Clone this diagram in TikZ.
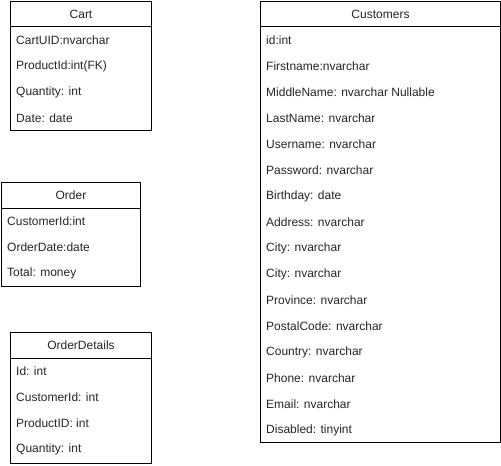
\documentclass[tikz,border=0pt]{standalone}
\usepackage{fontspec}
\setmainfont{Liberation Sans}
\begin{document}
\begin{tikzpicture}[x=1pt,y=-1pt,
  tbl/.style={draw=black, line width=1pt, anchor=north west, inner sep=0pt, fill=white},
  ttl/.style={font=\fontsize{12}{14}\selectfont, text=black!85, inner sep=0pt},
  fld/.style={font=\fontsize{12}{14}\selectfont, text=black!85, anchor=west, inner sep=0pt}]
\useasboundingbox (0,0) rectangle (501,466);
% Cart
\node[tbl, minimum width=141pt, minimum height=129pt] (cart) at (10,1) {};
\draw[line width=1pt] ([yshift=-25pt]cart.north west) -- ([yshift=-25pt]cart.north east);
\node[ttl] (cartT) at ([yshift=-13pt]cart.north) {Cart};
\foreach \t [count=\i] in {CartUID:nvarchar, ProductId:int(FK), Quantity: int, Date: date}
  \node[fld] (cart-\i) at ([xshift=6pt, yshift={-13pt-26pt*\i}]cart.north west) {\t};
% Order
\node[tbl, minimum width=139pt, minimum height=104pt] (order) at (1,182) {};
\draw[line width=1pt] ([yshift=-26pt]order.north west) -- ([yshift=-26pt]order.north east);
\node[ttl] (orderT) at ([yshift=-13pt]order.north) {Order};
\foreach \t [count=\i] in {CustomerId:int, OrderDate:date, Total: money}
  \node[fld] (order-\i) at ([xshift=6pt, yshift={-13pt-26pt*\i}]order.north west) {\t};
% OrderDetails
\node[tbl, minimum width=141pt, minimum height=131pt] (od) at (10,332) {};
\draw[line width=1pt] ([yshift=-26pt]od.north west) -- ([yshift=-26pt]od.north east);
\node[ttl] (odT) at ([yshift=-13pt]od.north) {OrderDetails};
\foreach \t [count=\i] in {Id: int, CustomerId: int, ProductID: int, Quantity: int}
  \node[fld] (od-\i) at ([xshift=6pt, yshift={-13pt-26pt*\i}]od.north west) {\t};
% Customers
\node[tbl, minimum width=240pt, minimum height=441pt] (cust) at (260,1) {};
\draw[line width=1pt] ([yshift=-25pt]cust.north west) -- ([yshift=-25pt]cust.north east);
\node[ttl] (custT) at ([yshift=-13pt]cust.north) {Customers};
\foreach \t [count=\i] in {id:int, Firstname:nvarchar, MiddleName: nvarchar Nullable, LastName: nvarchar, Username: nvarchar, Password: nvarchar, Birthday: date, Address: nvarchar, City: nvarchar, City: nvarchar, Province: nvarchar, PostalCode: nvarchar, Country: nvarchar, Phone: nvarchar, Email: nvarchar, Disabled: tinyint}
  \node[fld] (cust-\i) at ([xshift=6pt, yshift={-13pt-26pt*\i}]cust.north west) {\t};
\end{tikzpicture}
\end{document}
